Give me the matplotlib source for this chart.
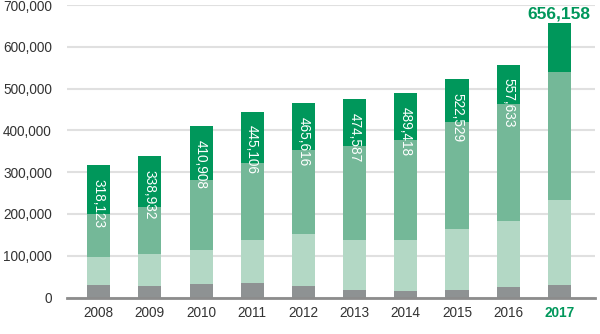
import matplotlib
matplotlib.use('Agg')
import matplotlib.pyplot as plt
import numpy as np

plt.rcParams['font.family'] = ['Liberation Sans', 'DejaVu Sans']

years = ['2008', '2009', '2010', '2011', '2012', '2013', '2014', '2015', '2016', '2017']
totals = [318123, 338932, 410908, 445106, 465616, 474587, 489418, 522529, 557633, 656158]
total_labels = ['318,123', '338,932', '410,908', '445,106', '465,616',
                '474,587', '489,418', '522,529', '557,633', '656,158']
# stacked segments (bottom -> top)
seg_gray = [29000, 28500, 32700, 34000, 28500, 19000, 16000, 18000, 26000, 29000]
seg_light = [69000, 76500, 82300, 103000, 124500, 118000, 122000, 146000, 158000, 204000]
seg_mid = [103000, 112000, 166000, 184000, 201000, 225000, 240000, 256000, 279000, 307000]
seg_dark = [t - g - l - m for t, g, l, m in zip(totals, seg_gray, seg_light, seg_mid)]

c_gray = '#8e9293'
c_light = '#b3d8c5'
c_mid = '#74b898'
c_dark = '#00975b'

fig = plt.figure(figsize=(6, 3.34), dpi=100)
ax = fig.add_axes([0.112, 0.109, 0.88, 0.876])

x = np.arange(len(years))
w = 0.45
bottom = np.zeros(len(years))
for vals, col in [(seg_gray, c_gray), (seg_light, c_light), (seg_mid, c_mid), (seg_dark, c_dark)]:
    ax.bar(x, vals, w, bottom=bottom, color=col, zorder=3, linewidth=0)
    bottom += np.array(vals)

# value labels
for i in range(len(years)):
    if i == len(years) - 1:
        ax.annotate(total_labels[i], (x[i], totals[i]), xytext=(0, 1), textcoords='offset points',
                    ha='center', va='bottom', fontsize=12.5, fontweight='bold', color=c_dark, zorder=4)
    else:
        ax.annotate(total_labels[i], (x[i], totals[i]), xytext=(0, -10), textcoords='offset points',
                    ha='center', va='top', rotation=-90, fontsize=9.8, color='white', zorder=4)

ax.set_ylim(0, 700000)
ax.set_xlim(-0.615, 9.7)
ax.set_yticks(range(0, 700001, 100000))
ax.set_yticklabels(['0'] + ['{:,}'.format(v) for v in range(100000, 700001, 100000)])
ax.set_xticks(x)
ax.set_xticklabels(years)
ax.tick_params(axis='both', length=0, labelsize=9.8, colors='#333333')
ax.tick_params(axis='y', pad=11)
ax.tick_params(axis='x', pad=6)
lbl = ax.get_xticklabels()[-1]
lbl.set_color(c_dark)
lbl.set_fontweight('bold')

ax.yaxis.grid(True, color='#e0e0e0', linewidth=1.5, zorder=0)
ax.set_axisbelow(True)
for s in ['top', 'right', 'left']:
    ax.spines[s].set_visible(False)
ax.spines['bottom'].set_color('#8c8c8c')
ax.spines['bottom'].set_linewidth(2)
ax.spines['bottom'].set_zorder(5)

fig.savefig('out.png', dpi=100)
